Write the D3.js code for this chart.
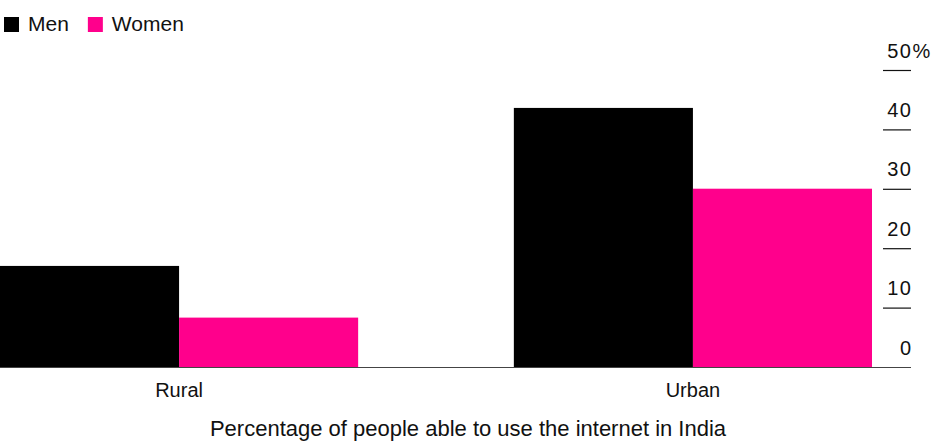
<!DOCTYPE html>
<html><head><meta charset="utf-8">
<script src="https://cdn.jsdelivr.net/npm/d3@7"></script>
<style>
html,body{margin:0;padding:0;background:#fff;}
text{font-family:"Liberation Sans",Arial,Helvetica,sans-serif;fill:#111;}
</style></head>
<body><svg id="chart" width="936" height="443"></svg>
<script>
const categories = ["Rural", "Urban"];
const seriesNames = ["Men", "Women"];
const menValues = [17.1, 43.7];
const womenValues = [8.4, 30.1];
const tickValues = [0, 10, 20, 30, 40, 50];
const title = "Percentage of people able to use the internet in India";
const colors = {Men: "#000000", Women: "#ff008c"};

const svg = d3.select("#chart");
const baseY = 367.5, topY = 70.5;
const y = d3.scaleLinear().domain([0, 50]).range([baseY, topY]);
const x0 = d3.scaleBand().domain(categories).range([0, 872]).paddingInner(0.303).paddingOuter(0);
const x1 = d3.scaleBand().domain(seriesNames).range([0, x0.bandwidth()]).padding(0);

const data = categories.map((c, i) => ({cat: c, vals: [
  {s: "Men", v: menValues[i]}, {s: "Women", v: womenValues[i]}]}));

const g = svg.append("g");
g.selectAll("g.grp").data(data).join("g").attr("class", "grp")
  .attr("transform", d => `translate(${x0(d.cat)},0)`)
  .selectAll("rect").data(d => d.vals).join("rect")
  .attr("x", d => x1(d.s)).attr("width", x1.bandwidth())
  .attr("y", d => y(d.v)).attr("height", d => baseY - y(d.v))
  .attr("fill", d => colors[d.s]);

// baseline
svg.append("line").attr("x1", 0).attr("x2", 911).attr("y1", baseY).attr("y2", baseY)
  .attr("stroke", "#444").attr("stroke-width", 1.2);

// right axis ticks
const tg = svg.append("g");
const ls = 1.5;
tickValues.forEach(t => {
  if (t > 0) tg.append("line").attr("x1", 883).attr("x2", 911).attr("y1", y(t)).attr("y2", y(t))
    .attr("stroke", "#111").attr("stroke-width", 1.2);
  const txt = tg.append("text").attr("y", y(t) - 13).attr("font-size", 20);
  const num = txt.append("tspan").attr("letter-spacing", ls).text(t);
  const w = num.node().getComputedTextLength();
  txt.attr("x", 911 - w + ls);
  if (t === 50) txt.append("tspan").attr("dx", 0).text("%");
});

// category labels
svg.selectAll("text.cat").data(categories).join("text").attr("class", "cat")
  .attr("x", d => x0(d) + x0.bandwidth() / 2).attr("y", 397).attr("text-anchor", "middle")
  .attr("font-size", 20).text(d => d);

svg.append("text").attr("x", 468).attr("y", 436).attr("text-anchor", "middle")
  .attr("font-size", 22).text(title);

// legend
const lg = svg.append("g");
let lx = 4;
seriesNames.forEach(s => {
  lg.append("rect").attr("x", lx).attr("y", 17).attr("width", 15).attr("height", 15).attr("fill", colors[s]);
  const t = lg.append("text").attr("x", lx + 24).attr("y", 31).attr("font-size", 21).text(s);
  lx += 24 + t.node().getComputedTextLength() + 19;
});
</script></body></html>
